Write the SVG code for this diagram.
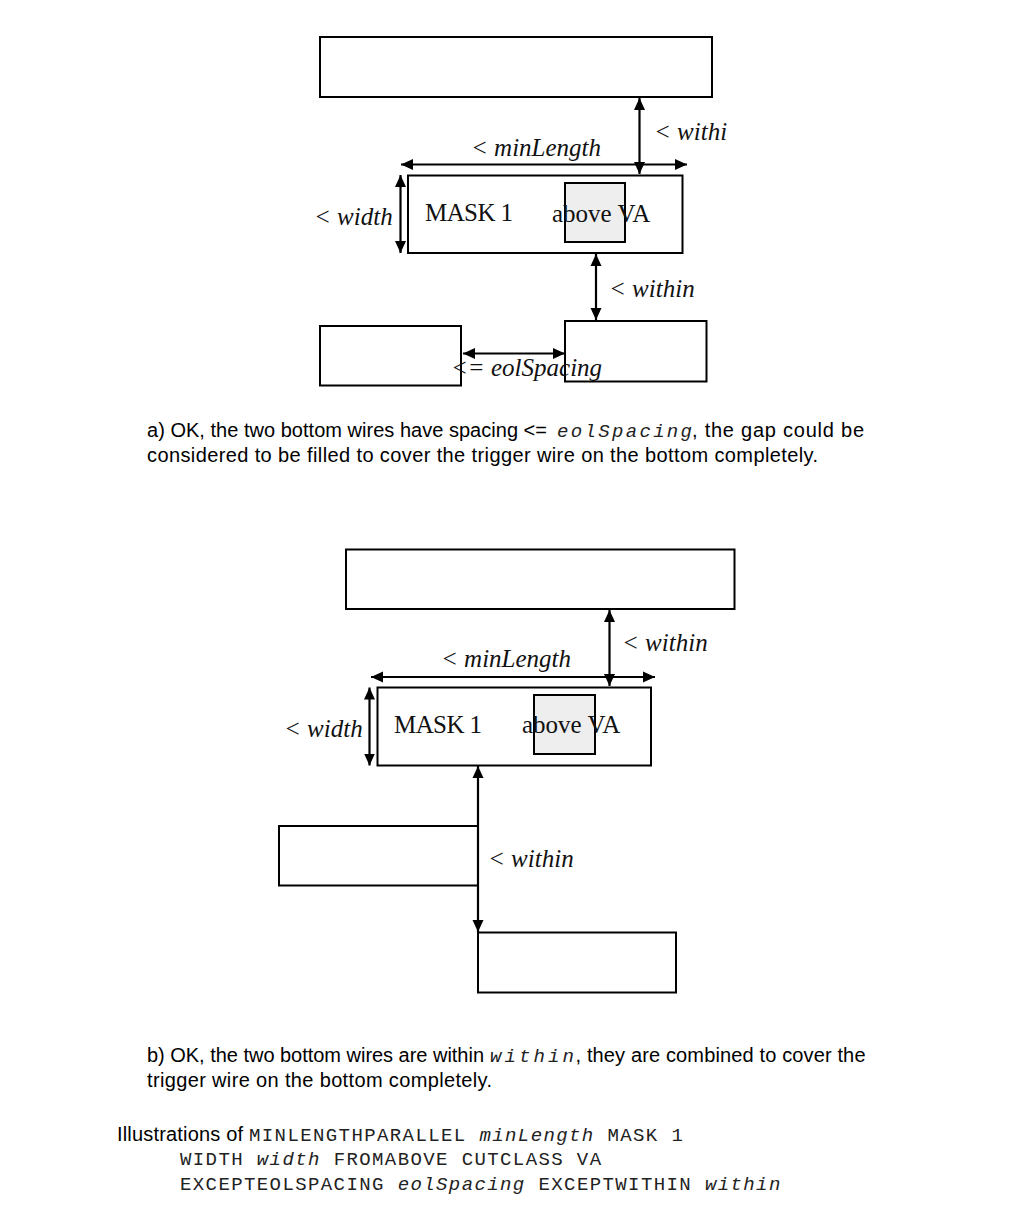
<svg xmlns="http://www.w3.org/2000/svg" width="1013" height="1220" viewBox="0 0 1013 1220">
<style>
.wire{fill:#fff;stroke:#000;stroke-width:2}
.via{fill:#eeeeee;stroke:#000;stroke-width:2}
.arr{stroke:#000;stroke-width:2.2;fill:none;marker-start:url(#ah);marker-end:url(#ah)}
.lbl{font-family:"Liberation Serif","Times New Roman",serif;font-style:italic;font-size:25px;fill:#111}
.rom{font-family:"Liberation Serif","Times New Roman",serif;font-size:25px;fill:#111}
.cap{font-family:"Liberation Sans",Arial,sans-serif;font-size:20px;fill:#000}
.mono{font-family:"Liberation Mono","Courier New",monospace;font-size:19px;fill:#222}
.it{font-style:italic}
</style>
<defs>
<marker id="ah" viewBox="0 0 12 12" refX="12" refY="6" markerWidth="12" markerHeight="12" markerUnits="userSpaceOnUse" orient="auto-start-reverse"><path d="M0,0.5 L12,6 L0,11.5 z" fill="#000"/></marker>
</defs>
<rect width="1013" height="1220" fill="#fff"/>

<!-- Part a -->
<g id="a-top-wire"><rect class="wire" x="320" y="37" width="392" height="60"/></g>
<g id="a-mask1"><rect class="wire" x="408" y="175.5" width="274.5" height="77.5"/></g>
<g id="a-via"><rect class="via" x="565" y="183" width="60" height="59"/></g>
<g id="a-right-wire"><rect class="wire" x="565" y="321" width="141.5" height="60.5"/></g>
<g id="a-left-wire"><rect class="wire" x="320" y="326" width="141" height="59.5"/></g>

<!-- Part b -->
<g id="b-top-wire"><rect class="wire" x="346" y="549.5" width="388.5" height="59.5"/></g>
<g id="b-mask1"><rect class="wire" x="377.5" y="687.5" width="273.5" height="78"/></g>
<g id="b-via"><rect class="via" x="534" y="695" width="61" height="59"/></g>
<g id="b-left-wire"><rect class="wire" x="279" y="826" width="199" height="59.5"/></g>
<g id="b-bottom-wire"><rect class="wire" x="478" y="932.5" width="198" height="60"/></g>

<g id="connectors">
<line class="arr" x1="639.5" y1="98" x2="639.5" y2="174"/>
<line class="arr" x1="401" y1="164.5" x2="687" y2="164.5"/>
<line class="arr" x1="400.5" y1="175" x2="400.5" y2="253"/>
<line class="arr" x1="596" y1="254" x2="596" y2="320"/>
<line class="arr" x1="463" y1="353.5" x2="565" y2="353.5"/>

<line class="arr" x1="609.5" y1="610" x2="609.5" y2="686"/>
<line class="arr" x1="371" y1="677" x2="655" y2="677"/>
<line class="arr" x1="369.5" y1="687.5" x2="369.5" y2="765.5"/>
<line class="arr" x1="478" y1="766" x2="478" y2="932"/>
</g>

<g id="labels">
<text class="lbl" x="654" y="140">&lt; withi</text>
<text class="lbl" x="471" y="156">&lt; minLength</text>
<text class="lbl" x="314" y="225">&lt; width</text>
<text class="rom" x="425" y="221" textLength="88">MASK 1</text>
<text class="rom" x="552" y="222">above VA</text>
<text class="lbl" x="609" y="297">&lt; within</text>
<text class="lbl" x="451" y="376">&lt;= eolSpacing</text>

<text class="lbl" x="622" y="651">&lt; within</text>
<text class="lbl" x="441" y="667">&lt; minLength</text>
<text class="lbl" x="284" y="737">&lt; width</text>
<text class="rom" x="394" y="733" textLength="88">MASK 1</text>
<text class="rom" x="522" y="733">above VA</text>
<text class="lbl" x="488" y="867">&lt; within</text>
</g>

<g id="caption-a">
<text class="cap" x="147" y="437" textLength="400">a) OK, the two bottom wires have spacing &lt;=</text>
<text class="mono it" x="557" y="437" textLength="135">eolSpacing</text>
<text class="cap" x="692" y="437" textLength="172">, the gap could be</text>
<text class="cap" x="147" y="461.5" textLength="671">considered to be filled to cover the trigger wire on the bottom completely.</text>
</g>

<g id="caption-b">
<text class="cap" x="147" y="1062" textLength="337">b) OK, the two bottom wires are within</text>
<text class="mono it" x="490" y="1062" textLength="84">within</text>
<text class="cap" x="575.5" y="1062" textLength="290">, they are combined to cover the</text>
<text class="cap" x="147" y="1087" textLength="345">trigger wire on the bottom completely.</text>
</g>

<g id="caption-main">
<text class="cap" x="117" y="1141" textLength="126">Illustrations of</text>
<text class="mono" x="249" y="1141" letter-spacing="1.4">MINLENGTHPARALLEL <tspan class="it">minLength</tspan> MASK 1</text>
<text class="mono" x="180" y="1165" letter-spacing="1.4">WIDTH <tspan class="it">width</tspan> FROMABOVE CUTCLASS VA</text>
<text class="mono" x="180" y="1190" letter-spacing="1.4">EXCEPTEOLSPACING <tspan class="it">eolSpacing</tspan> EXCEPTWITHIN <tspan class="it">within</tspan></text>
</g>
</svg>
